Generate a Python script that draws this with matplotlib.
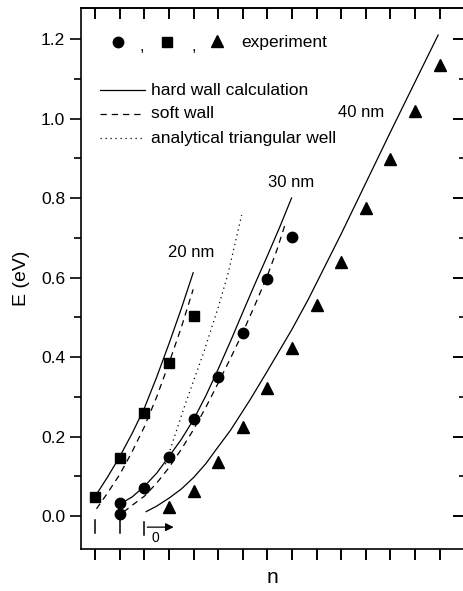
import matplotlib
matplotlib.use('Agg')
import matplotlib.pyplot as plt
import numpy as np
from matplotlib.ticker import MultipleLocator, FormatStrFormatter

plt.rcParams['font.family'] = ['Liberation Sans', 'DejaVu Sans']

# --- experiment (x = tick index along n axis) ---
sq_n = [0, 1, 2, 3, 4]
sq_E = [0.049, 0.145, 0.258, 0.384, 0.503]            # 20 nm

ci_n = [1, 1, 2, 3, 4, 5, 6, 7, 8]
ci_E = [0.005, 0.032, 0.070, 0.148, 0.243, 0.350, 0.461, 0.596, 0.701]   # 30 nm

tr_n = [3, 4, 5, 6, 7, 8, 9, 10, 11, 12, 13, 14]
tr_E = [0.022, 0.064, 0.137, 0.223, 0.321, 0.423, 0.531, 0.640, 0.774, 0.898, 1.019, 1.135]  # 40 nm

# --- calculations ---
hard20_n = [0.0, 0.5, 1.0, 1.5, 2.0, 2.5, 3.0, 3.5, 3.98]
hard20_E = [0.05, 0.098, 0.15, 0.208, 0.272, 0.35, 0.434, 0.522, 0.612]
soft20_n = [0.05, 0.5, 1.0, 1.5, 2.0, 2.5, 3.0, 3.5, 3.98]
soft20_E = [0.018, 0.058, 0.105, 0.162, 0.225, 0.30, 0.385, 0.475, 0.57]

hard30_n = [1.0, 1.5, 2.0, 2.5, 3.0, 3.5, 4.0, 4.5, 5.0, 5.5, 6.0, 6.5, 7.0, 7.5, 7.98]
hard30_E = [0.03, 0.048, 0.075, 0.108, 0.15, 0.193, 0.243, 0.303, 0.37, 0.44, 0.513, 0.585, 0.655, 0.727, 0.80]
soft30_n = [1.15, 1.5, 2.0, 2.5, 3.0, 3.5, 4.0, 4.5, 5.0, 5.5, 6.0, 6.5, 7.0, 7.4, 7.75]
soft30_E = [0.01, 0.027, 0.05, 0.083, 0.122, 0.168, 0.218, 0.274, 0.335, 0.397, 0.462, 0.532, 0.605, 0.672, 0.74]

tri_n = [2.85, 3.65, 4.4, 5.0, 5.4, 5.95]
tri_E = [0.13, 0.28, 0.41, 0.525, 0.61, 0.757]

hard40_n = [2.07, 2.5, 3.0, 3.5, 4.0, 4.5, 4.9, 5.5, 6.29, 7.0, 8.0, 8.66, 10.0, 11.0, 12.0, 13.0, 13.94]
hard40_E = [0.011, 0.025, 0.045, 0.068, 0.097, 0.132, 0.166, 0.216, 0.292, 0.365, 0.47, 0.545, 0.71, 0.838, 0.966, 1.092, 1.21]

# start markers (n = 0 of each series)
start_n = [0, 1, 2]
start_top = [-0.010, 0.0, -0.014]
start_bot = [-0.043, -0.044, -0.048]

fig = plt.figure(figsize=(4.63, 5.91), dpi=100)
ax = fig.add_axes([81/463, 1 - 549/591, (463 - 81)/463, (549 - 8)/591])

lw = 0.9
dash = (0, (5, 4))
dots = (0, (1, 3))
ax.plot(hard20_n, hard20_E, color='black', lw=lw)
ax.plot(soft20_n, soft20_E, color='black', lw=lw, ls=dash)
ax.plot(hard30_n, hard30_E, color='black', lw=lw)
ax.plot(soft30_n, soft30_E, color='black', lw=lw, ls=dash)
ax.plot(tri_n, tri_E, color='black', lw=lw, ls=dots)
ax.plot(hard40_n, hard40_E, color='black', lw=lw)

ax.plot(sq_n, sq_E, 's', color='black', ms=7.5)
ax.plot(ci_n, ci_E, 'o', color='black', ms=7.5)
ax.plot(tr_n, tr_E, '^', color='black', ms=8)

for n0, t, b in zip(start_n, start_top, start_bot):
    ax.plot([n0, n0], [b, t], color='black', lw=1.1)
ax.annotate('', xy=(3.3, -0.028), xytext=(2.0, -0.028),
            arrowprops=dict(arrowstyle='-|>', color='black', lw=0.9, mutation_scale=12))
ax.text(2.46, -0.056, '0', fontsize=10, ha='center', va='center')

ax.text(3.89, 0.664, '20 nm', fontsize=12, ha='center', va='center')
ax.text(7.95, 0.838, '30 nm', fontsize=12, ha='center', va='center')
ax.text(10.8, 1.015, '40 nm', fontsize=12, ha='center', va='center')

# legend drawn by hand
tr = ax.transAxes
ax.plot([0.0976], [0.937], 'o', color='black', ms=7.5, transform=tr)
ax.text(0.159, 0.928, ',', fontsize=12, ha='center', va='center', transform=tr)
ax.plot([0.2243], [0.937], 's', color='black', ms=7.5, transform=tr)
ax.text(0.294, 0.928, ',', fontsize=12, ha='center', va='center', transform=tr)
ax.plot([0.355], [0.939], '^', color='black', ms=8, transform=tr)
ax.text(0.4207, 0.937, 'experiment', fontsize=12.5, ha='left', va='center', transform=tr)

leg_y = [0.8484, 0.8041, 0.7588]
leg_txt = ['hard wall calculation', 'soft wall', 'analytical triangular well']
leg_ls = ['-', dash, dots]
for y, t, s in zip(leg_y, leg_txt, leg_ls):
    ax.plot([0.0497, 0.168], [y, y], color='black', lw=lw, ls=s, transform=tr)
    ax.text(0.183, y, t, fontsize=12.5, ha='left', va='center', transform=tr)

ax.set_xlim(-0.58, 14.95)
ax.set_ylim(-0.083, 1.278)
ax.yaxis.set_major_locator(MultipleLocator(0.2))
ax.yaxis.set_minor_locator(MultipleLocator(0.1))
ax.yaxis.set_major_formatter(FormatStrFormatter('%.1f'))
ax.set_xticks(np.arange(0, 15))
ax.set_xticklabels([])

ax.spines['right'].set_visible(False)
for s in ['left', 'bottom', 'top']:
    ax.spines[s].set_linewidth(1.2)

ax.tick_params(axis='y', which='major', direction='out', length=8, width=1.2, labelsize=12.5, right=False)
ax.tick_params(axis='y', which='minor', direction='out', length=5, width=1.2, right=False)
ax.tick_params(axis='x', which='major', direction='out', length=8, width=1.4, top=False)

# ticks pointing inward on top and right
ax_top = ax.secondary_xaxis('top')
ax_top.set_xticks(np.arange(0, 15))
ax_top.set_xticklabels([])
ax_top.tick_params(direction='in', length=8, width=1.4)
ax_top.spines['top'].set_linewidth(1.2)

ax_r = ax.secondary_yaxis('right')
ax_r.yaxis.set_major_locator(MultipleLocator(0.2))
ax_r.yaxis.set_minor_locator(MultipleLocator(0.1))
ax_r.set_yticklabels([])
ax_r.tick_params(which='major', direction='in', length=7, width=1.4)
ax_r.tick_params(which='minor', direction='in', length=3, width=1.2)
ax_r.spines['right'].set_visible(False)

ax.set_ylabel('E (eV)', fontsize=14, labelpad=8)
ax.set_xlabel('n', fontsize=15, labelpad=2)

fig.savefig('out.png', dpi=100)
